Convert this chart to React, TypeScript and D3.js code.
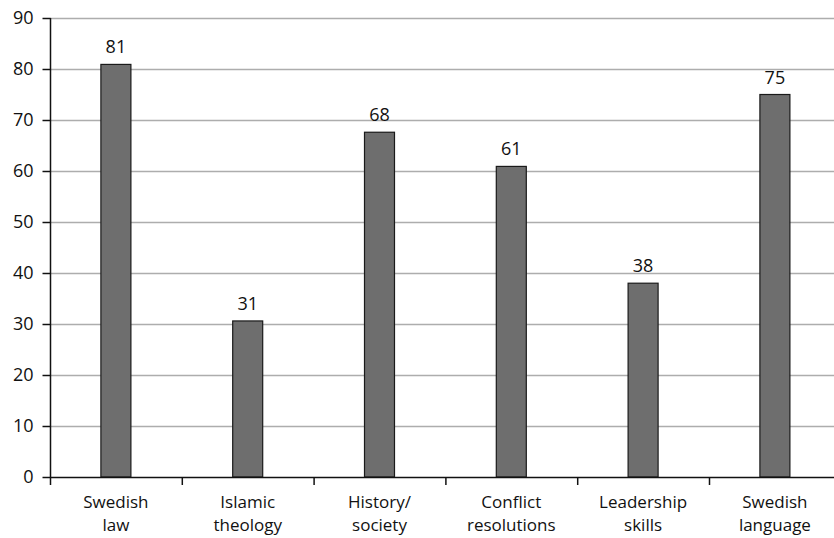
import React, { useEffect, useRef } from 'react';
import * as d3 from 'd3';

// data
const categories = ['Swedish law', 'Islamic theology', 'History/ society', 'Conflict resolutions', 'Leadership skills', 'Swedish language'];
const categoryLine1 = ['Swedish', 'Islamic', 'History/', 'Conflict', 'Leadership', 'Swedish'];
const categoryLine2 = ['law', 'theology', 'society', 'resolutions', 'skills', 'language'];
const values = [80.9, 30.6, 67.6, 60.9, 38.0, 75.0];
const valueLabels = ['81', '31', '68', '61', '38', '75'];
const yTicks = [0, 10, 20, 30, 40, 50, 60, 70, 80, 90];

const App: React.FC = () => {
  const ref = useRef<SVGSVGElement | null>(null);

  useEffect(() => {
    const svg = d3.select(ref.current);
    svg.selectAll('*').remove();

    const left = 50;
    const top = 18;
    const bottom = 477;
    const bandW = 131.8;
    const font = '"Open Sans", "Noto Sans", sans-serif';

    const x = d3.scaleBand<string>()
      .domain(categories)
      .range([left, left + bandW * categories.length])
      .paddingInner(0)
      .paddingOuter(0);
    const y = d3.scaleLinear().domain([0, 90]).range([bottom, top]);

    // gridlines
    svg.append('g')
      .selectAll('line')
      .data(yTicks.filter(d => d > 0))
      .join('line')
      .attr('x1', left)
      .attr('x2', 834)
      .attr('y1', d => Math.round(y(d)) + 0.5)
      .attr('y2', d => Math.round(y(d)) + 0.5)
      .attr('stroke', '#adadad')
      .attr('stroke-width', 1.3);

    // bars
    const barW = 30;
    svg.append('g')
      .selectAll('rect')
      .data(values)
      .join('rect')
      .attr('x', (d, i) => (x(categories[i]) || 0) + x.bandwidth() / 2 - barW / 2)
      .attr('y', d => y(d))
      .attr('width', barW)
      .attr('height', d => bottom - y(d))
      .attr('fill', '#6e6e6e')
      .attr('stroke', '#1a1a1a')
      .attr('stroke-width', 1.2);

    // value labels
    svg.append('g')
      .selectAll('text')
      .data(values)
      .join('text')
      .attr('x', (d, i) => (x(categories[i]) || 0) + x.bandwidth() / 2)
      .attr('y', d => y(d) - 11)
      .attr('text-anchor', 'middle')
      .attr('font-family', font)
      .attr('font-size', 18)
      .attr('fill', '#111')
      .text((d, i) => valueLabels[i]);

    // y axis
    const yAxis = d3.axisLeft(y).tickValues(yTicks).tickSize(8).tickPadding(9);
    svg.append('g')
      .attr('transform', `translate(${left + 0.5},0)`)
      .call(yAxis)
      .call(g => g.select('.domain').attr('d', `M0,${top}V${bottom + 0.5}`).attr('stroke', '#111').attr('stroke-width', 1.5))
      .call(g => g.selectAll('.tick line').attr('stroke', '#111').attr('stroke-width', 1.5))
      .call(g => g.selectAll('.tick text').attr('font-family', font).attr('font-size', 18).attr('fill', '#111'));

    // x axis
    svg.append('line')
      .attr('x1', left)
      .attr('x2', 834)
      .attr('y1', bottom + 0.5)
      .attr('y2', bottom + 0.5)
      .attr('stroke', '#111')
      .attr('stroke-width', 1.5);

    svg.append('g')
      .selectAll('line')
      .data(d3.range(categories.length + 1))
      .join('line')
      .attr('x1', i => left + 0.5 + i * bandW)
      .attr('x2', i => left + 0.5 + i * bandW)
      .attr('y1', bottom)
      .attr('y2', bottom + 8)
      .attr('stroke', '#111')
      .attr('stroke-width', 1.5);

    // category labels, two lines each
    [categoryLine1, categoryLine2].forEach((lines, row) => {
      svg.append('g')
        .selectAll('text')
        .data(categories)
        .join('text')
        .attr('x', d => (x(d) || 0) + x.bandwidth() / 2)
        .attr('y', 508 + row * 23.4)
        .attr('text-anchor', 'middle')
        .attr('font-family', font)
        .attr('font-size', 17)
        .attr('fill', '#111')
        .text((d, i) => lines[i]);
    });
  }, []);

  return (
    <svg ref={ref} width={834} height={538} style={{ position: 'absolute', left: 0, top: 0, background: '#fff' }} />
  );
};

export default App;
